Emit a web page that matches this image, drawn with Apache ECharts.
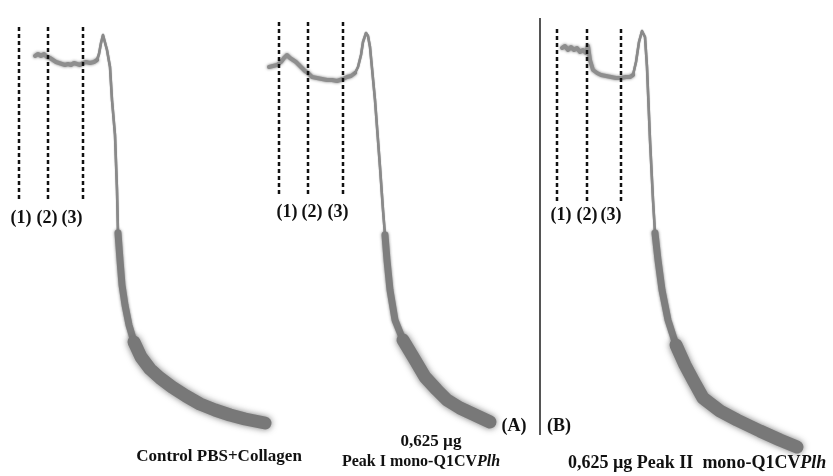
<!DOCTYPE html>
<html>
<head>
<meta charset="utf-8">
<script src="https://cdn.jsdelivr.net/npm/echarts@6/dist/echarts.min.js"></script>
<style>
  html, body { margin: 0; padding: 0; background: #fff; }
  #chart { width: 833px; height: 476px; }
</style>
</head>
<body>
<div id="chart"></div>
<script>
// traces: [time, transmission] in plot units
const ctrlBaseline = [[35,56],[38,54],[41,56],[44,54],[47,57],[50,58],[53,60],[56,62],[59,63],[62,64],[65,65],[68,64],[71,65],[74,63],[77,64],[80,65],[83,63],[86,62],[90,63],[94,62],[97,60]]
const ctrlDrop = [[97,60],[99,54],[101,43],[103,35],[105,37],[107,50],[110,67],[112,100],[115,135],[117,190],[118,233]]
const ctrlEarly = [[118,233],[120,260],[122,285],[125,305],[129,325],[134,342]]
const ctrlLate = [[134,342],[141,357],[150,369],[160,378],[172,387],[186,396],[200,404],[215,410],[230,415],[245,419],[265,423]]

const peak1Baseline = [[269,67],[273,66],[277,65],[281,62],[284,58],[287,55],[290,58],[293,60],[296,62],[299,65],[302,68],[305,71],[308,73],[312,77],[317,78],[322,79],[327,80],[332,80],[337,81],[343,79],[347,77],[351,76],[355,73]]
const peak1Drop = [[355,73],[358,67],[361,55],[363,42],[366,33],[368,36],[370,47],[375,100],[380,167],[383,210],[385,235]]
const peak1Early = [[385,235],[387,260],[390,290],[395,320],[403,340]]
const peak1Late = [[403,340],[415,360],[425,377],[437,390],[447,400],[460,408],[475,415],[490,422]]

const peak2Baseline = [[562,48],[565,46],[568,50],[571,47],[574,50],[577,48],[580,52],[583,50],[586,53],[588,46],[590,60],[593,70],[597,73],[601,75],[606,76],[611,77],[616,78],[621,78],[626,77],[630,77],[633,75]]
const peak2Drop = [[633,75],[636,62],[639,42],[642,31],[645,37],[647,67],[650,140],[653,200],[655,233]]
const peak2Early = [[655,233],[658,260],[662,290],[668,320],[676,345]]
const peak2Late = [[676,345],[685,365],[693,380],[703,398],[720,411],[737,420],[760,431],[780,440],[797,447]]

// addition marks (1) (2) (3) for each trace
const marks1 = [19, 48, 83]
const marks2 = [279, 308, 343]
const marks3 = [557, 587, 621]
const markTop = [27, 22, 29]
const markBottom = [200, 197, 202]
const markLabels = ['(1)', '(2)', '(3)']

const chart = echarts.init(document.getElementById('chart'))

const trace = (data, width, color, blur) => ({
  type: 'line',
  data: data,
  symbol: 'none',
  silent: true,
  lineStyle: {
    width: width,
    color: color,
    cap: 'round',
    join: 'round',
    shadowBlur: blur || 0,
    shadowColor: 'rgba(110,110,110,0.9)'
  }
})

const series = []
;[
  [ctrlBaseline, ctrlDrop, ctrlEarly, ctrlLate],
  [peak1Baseline, peak1Drop, peak1Early, peak1Late],
  [peak2Baseline, peak2Drop, peak2Early, peak2Late]
].forEach(([base, drop, early, late]) => {
  series.push(trace(base, 4, '#8e8e8e', 3))
  series.push(trace(drop, 2.5, '#8a8a8a', 1))
  series.push(trace(early.concat(late), 7, '#7e7e7e', 3))
  series.push(trace(late, 13, '#787878', 6))
})

;[marks1, marks2, marks3].forEach((marks, i) => {
  marks.forEach(x => {
    series.push({
      type: 'line',
      data: [[x, markTop[i]], [x, markBottom[i]]],
      symbol: 'none',
      silent: true,
      lineStyle: { width: 2.5, color: '#111', type: [4, 3] }
    })
  })
})

// divider between panels (A) and (B)
series.push({
  type: 'line',
  data: [[540, 18], [540, 435]],
  symbol: 'none',
  silent: true,
  lineStyle: { width: 2, color: '#555' }
})

const txt = (x, y, text, size, align) => ({
  type: 'text',
  x: x,
  y: y,
  style: {
    text: text,
    fill: '#111',
    font: 'bold ' + size + 'px "Liberation Serif", serif',
    align: align || 'center',
    verticalAlign: 'middle'
  }
})

const richTxt = (x, y, plain, italic, size, align) => ({
  type: 'text',
  x: x,
  y: y,
  style: {
    rich: {
      n: { font: 'bold ' + size + 'px "Liberation Serif", serif', fill: '#111' },
      i: { font: 'italic bold ' + size + 'px "Liberation Serif", serif', fill: '#111' }
    },
    text: '{n|' + plain + '}{i|' + italic + '}',
    align: align,
    verticalAlign: 'middle'
  }
})

const labelX = [[21, 47, 72], [287, 312, 338], [561, 587, 611]]
const labelY = [218, 212, 215]
const graphics = []
labelX.forEach((xs, i) => {
  xs.forEach((x, j) => graphics.push(txt(x, labelY[i], markLabels[j], 18)))
})
graphics.push(txt(219, 457, 'Control PBS+Collagen', 17))
graphics.push(txt(431, 442, '0,625 µg', 17))
graphics.push(richTxt(421, 462, 'Peak I mono-Q1CV', 'Plh', 16, 'center'))
graphics.push(txt(514, 426, '(A)', 18))
graphics.push(txt(559, 426, '(B)', 18))
graphics.push(richTxt(568, 463, '0,625 µg Peak II  mono-Q1CV', 'Plh', 18, 'left'))

chart.setOption({
  animation: false,
  grid: { left: 0, right: 0, top: 0, bottom: 0 },
  xAxis: { type: 'value', min: 0, max: 833, show: false },
  yAxis: { type: 'value', min: 0, max: 476, inverse: true, show: false },
  series: series,
  graphic: graphics
})
</script>
</body>
</html>
